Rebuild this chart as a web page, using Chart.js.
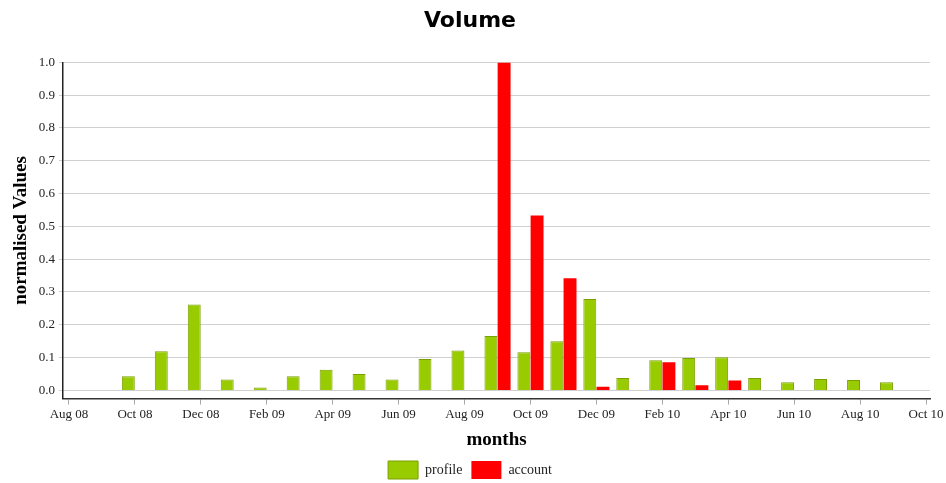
<!DOCTYPE html>
<html>
<head>
<meta charset="utf-8">
<script src="https://cdn.jsdelivr.net/npm/chart.js@4"></script>
<style>
  body { margin: 0; background: #fff; }
  #wrap { width: 946px; height: 483px; }
</style>
</head>
<body>
<div id="wrap"><canvas id="chartVolume" width="946" height="483"></canvas></div>
<script>
// month index 0 = Aug 08 ... 26 = Oct 10
const monthNames = ['Aug 08', 'Sep 08', 'Oct 08', 'Nov 08', 'Dec 08', 'Jan 09', 'Feb 09', 'Mar 09', 'Apr 09',
    'May 09', 'Jun 09', 'Jul 09', 'Aug 09', 'Sep 09', 'Oct 09', 'Nov 09', 'Dec 09', 'Jan 10', 'Feb 10',
    'Mar 10', 'Apr 10', 'May 10', 'Jun 10', 'Jul 10', 'Aug 10', 'Sep 10', 'Oct 10'];

const barMonths = [2, 3, 4, 5, 6, 7, 8, 9, 10, 11, 12, 13, 14, 15, 16, 17, 18, 19, 20, 21, 22, 23, 24, 25];
const profileValues = [0.043, 0.119, 0.262, 0.033, 0.009, 0.043, 0.063, 0.05, 0.033, 0.096, 0.122, 0.166,
    0.116, 0.15, 0.279, 0.038, 0.092, 0.099, 0.101, 0.038, 0.025, 0.035, 0.032, 0.025];
const accountValues = [0, 0, 0, 0, 0, 0, 0, 0, 0, 0, 0, 1.0,
    0.533, 0.342, 0.011, 0, 0.086, 0.016, 0.03, 0, 0, 0, 0, 0];

const xTicks = [0, 2, 4, 6, 8, 10, 12, 14, 16, 18, 20, 22, 24, 26];
const yTicks = [0, 0.1, 0.2, 0.3, 0.4, 0.5, 0.6, 0.7, 0.8, 0.9, 1.0];

const serif = '"Liberation Serif", "DejaVu Serif", serif';

const chartVolume = new Chart(document.getElementById('chartVolume').getContext('2d'), {
    type: 'bar',
    data: {
        datasets: [{
            label: 'profile',
            data: barMonths.map((m, i) => ({ x: m, y: profileValues[i] })),
            backgroundColor: '#99cc00',
            borderColor: '#7a9f00',
            borderWidth: 1,
            barPercentage: 0.98,
            categoryPercentage: 0.8
        }, {
            label: 'account',
            data: barMonths.map((m, i) => ({ x: m, y: accountValues[i] })),
            backgroundColor: '#ff0000',
            borderColor: '#ee0000',
            borderWidth: 0,
            barPercentage: 0.98,
            categoryPercentage: 0.8
        }]
    },
    options: {
        responsive: false,
        animation: false,
        layout: { padding: { left: 10, right: 16, top: 0, bottom: -6 } },
        plugins: {
            title: {
                display: true,
                text: 'Volume',
                color: '#000',
                font: { family: '"DejaVu Sans", sans-serif', size: 22, weight: 'bold' },
                padding: { top: 8, bottom: 28 }
            },
            legend: {
                position: 'bottom',
                labels: {
                    color: '#222',
                    boxWidth: 30,
                    boxHeight: 18,
                    padding: 9,
                    font: { family: serif, size: 14 }
                }
            },
            tooltip: { enabled: false }
        },
        scales: {
            x: {
                type: 'linear',
                min: -0.18,
                max: 26.12,
                offset: false,
                afterBuildTicks: axis => { axis.ticks = xTicks.map(v => ({ value: v })); },
                ticks: {
                    color: '#222',
                    font: { family: serif, size: 13 },
                    maxRotation: 0,
                    autoSkip: false,
                    padding: 2,
                    callback: v => monthNames[v]
                },
                grid: { offset: false, drawOnChartArea: false, drawTicks: true, tickLength: 6, color: '#aaa' },
                border: { display: true, color: '#333', width: 1.5 },
                title: {
                    display: true,
                    text: 'months',
                    color: '#000',
                    font: { family: serif, size: 19, weight: 'bold' },
                    padding: { top: 4, bottom: 1 }
                }
            },
            y: {
                min: -0.025,
                max: 1.0,
                afterBuildTicks: axis => { axis.ticks = yTicks.map(v => ({ value: v })); },
                ticks: {
                    color: '#222',
                    font: { family: serif, size: 13 },
                    padding: 4,
                    callback: v => v.toFixed(1)
                },
                grid: { color: '#d0d0d0', lineWidth: 1, drawTicks: true, tickLength: 4 },
                border: { display: true, color: '#222', width: 1.5 },
                title: {
                    display: true,
                    text: 'normalised Values',
                    color: '#000',
                    font: { family: serif, size: 19, weight: 'bold' },
                    padding: { top: 0, bottom: 2 }
                }
            }
        }
    }
});
</script>
</body>
</html>
